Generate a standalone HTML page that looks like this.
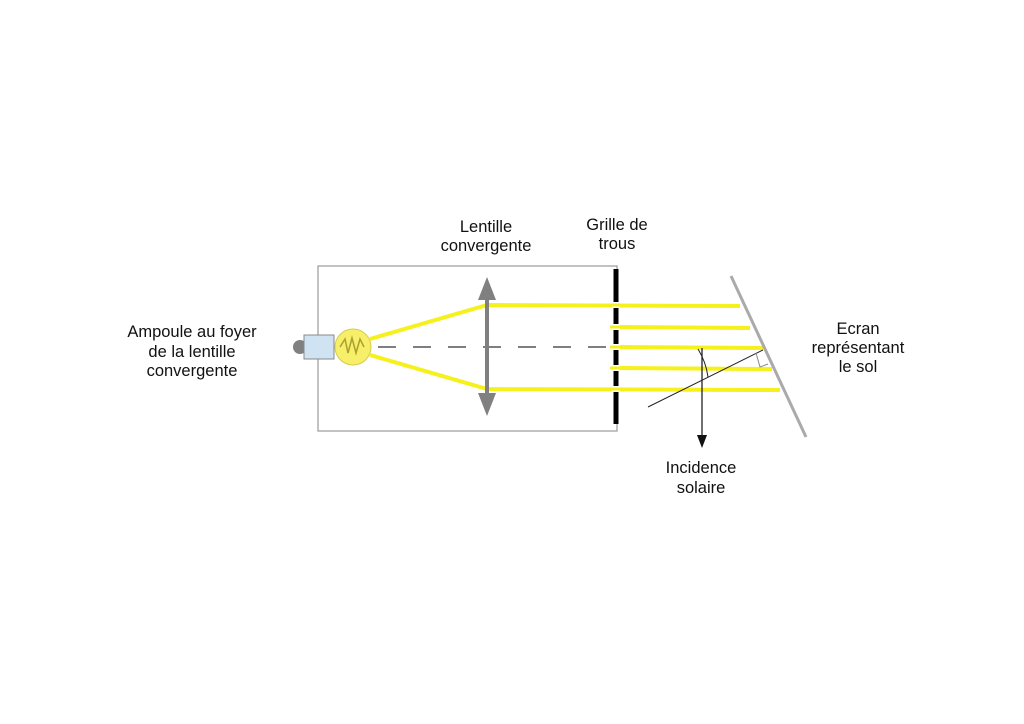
<!DOCTYPE html>
<html><head><style>
body{margin:0;background:#fff;}
svg{display:block;}
text{font-family:"Liberation Sans",sans-serif;font-size:16.5px;fill:#111;text-anchor:middle;}
</style></head><body>
<svg width="1024" height="724" viewBox="0 0 1024 724">
<rect x="318" y="266" width="299" height="165" fill="none" stroke="#999" stroke-width="1.2"/>
<line x1="378" y1="347" x2="610" y2="347" stroke="#555" stroke-width="1.5" stroke-dasharray="18,17"/>
<g stroke="#f6f01c" stroke-width="4" fill="none">
<polyline points="370,339 487,305 740,306"/>
<polyline points="370,355 487,389 780,390"/>
<line x1="617" y1="327" x2="750" y2="328"/>
<line x1="617" y1="347" x2="763" y2="348"/>
<line x1="617" y1="368" x2="772" y2="369"/>
</g>
<line x1="616" y1="269" x2="616" y2="424" stroke="#000" stroke-width="5"/>
<g stroke="#fff" stroke-width="6">
<line x1="612" y1="305" x2="620" y2="305"/><line x1="612" y1="327" x2="620" y2="327"/>
<line x1="612" y1="347" x2="620" y2="347"/><line x1="612" y1="368" x2="620" y2="368"/>
<line x1="612" y1="389" x2="620" y2="389"/></g>
<g stroke="#f6f01c" stroke-width="3"><line x1="610" y1="305" x2="622" y2="305"/><line x1="610" y1="327" x2="622" y2="327"/><line x1="610" y1="347" x2="622" y2="347"/><line x1="610" y1="368" x2="622" y2="368"/><line x1="610" y1="389" x2="622" y2="389"/></g>
<line x1="487" y1="295" x2="487" y2="400" stroke="#808080" stroke-width="4"/>
<polygon points="487,277 478,300 496,300" fill="#808080"/>
<polygon points="487,416 478,393 496,393" fill="#808080"/>
<circle cx="300" cy="347" r="7" fill="#808080"/>
<rect x="304" y="335" width="30" height="24" fill="#cfe3f3" stroke="#888"/>
<circle cx="353" cy="347" r="18" fill="#f7ee6a" stroke="#d6cc50"/>
<polyline points="340,347 345,339 348,353 352,338 356,353 360,339 364,347" fill="none" stroke="#a9a030" stroke-width="1.5"/>
<line x1="731" y1="276" x2="806" y2="437" stroke="#aaa" stroke-width="3"/>
<line x1="648" y1="407" x2="763" y2="350" stroke="#222" stroke-width="1"/>
<polyline points="756,353 760,367 768,364" fill="none" stroke="#888" stroke-width="1"/>
<path d="M698,349 Q706,362 708,377" fill="none" stroke="#222" stroke-width="1"/>
<line x1="702" y1="348" x2="702" y2="436" stroke="#222" stroke-width="1.3"/>
<polygon points="702,448 697,435 707,435" fill="#111"/>
<text x="486" y="232">Lentille</text><text x="486" y="251">convergente</text>
<text x="617" y="230">Grille de</text><text x="617" y="249">trous</text>
<text x="192" y="337">Ampoule au foyer</text><text x="192" y="357">de la lentille</text><text x="192" y="376">convergente</text>
<text x="858" y="334">Ecran</text><text x="858" y="353">représentant</text><text x="858" y="372">le sol</text>
<text x="701" y="473">Incidence</text><text x="701" y="493">solaire</text>
</svg>
</body></html>
